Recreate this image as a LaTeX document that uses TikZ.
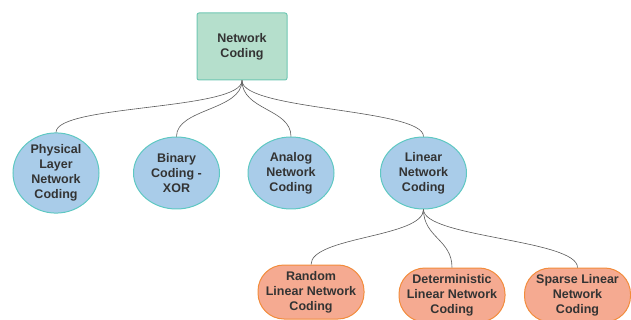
\documentclass[tikz,border=0pt]{standalone}
\usepackage{fontspec}
\setmainfont{Liberation Sans}
\definecolor{topfill}{HTML}{B5DFCC}
\definecolor{topdraw}{HTML}{6FC7B3}
\definecolor{ellfill}{HTML}{A9CCE9}
\definecolor{elldraw}{HTML}{5EC8C2}
\definecolor{orfill}{HTML}{F5AA91}
\definecolor{ordraw}{HTML}{F28C3C}
\definecolor{txt}{HTML}{333333}
\definecolor{edge}{HTML}{5A5A5A}
\tikzset{
  lbl/.style={font=\bfseries\fontsize{12.5}{15}\selectfont, text=txt, align=center, inner sep=0pt},
  topbox/.style={lbl, draw=topdraw, fill=topfill, line width=1pt, rounded corners=2pt, minimum width=90pt, minimum height=67pt},
  ell/.style={lbl, ellipse, draw=elldraw, fill=ellfill, line width=1pt, minimum width=86pt, minimum height=72pt},
  pill/.style={lbl, draw=ordraw, fill=orfill, line width=1pt, rounded corners=26pt, minimum width=106pt, minimum height=54pt},
  conn/.style={draw=edge, line width=0.6pt}
}
\usetikzlibrary{shapes.geometric}
\begin{document}
\begin{tikzpicture}[x=1pt,y=-1pt]
\useasboundingbox (0,0) rectangle (631,320);
\node[topbox] (nc) at (242,46.5) {Network\\Coding};
\node[ell] (phy) at (56,173) {Physical\\Layer\\Network\\Coding};
\node[ell] (bin) at (176.5,173) {Binary\\Coding -\\XOR};
\node[ell] (ana) at (291,173) {Analog\\Network\\Coding};
\node[ell] (lin) at (423.5,173) {Linear\\Network\\Coding};
\node[pill] (rnd) at (311,292) {Random\\Linear Network\\Coding};
\node[pill] (det) at (452,295) {Deterministic\\Linear Network\\Coding};
\node[pill] (spa) at (577.5,295) {Sparse Linear\\Network\\Coding};
\foreach \c in {phy,bin,ana,lin}{
  \draw[conn] (nc.south) .. controls ([yshift=-30]nc.south) and ([yshift=28]\c.north) .. (\c.north);
}
\foreach \c in {rnd,det,spa}{
  \draw[conn] (lin.south) .. controls ([yshift=-28]lin.south) and ([yshift=28]\c.north) .. (\c.north);
}
\end{tikzpicture}
\end{document}
